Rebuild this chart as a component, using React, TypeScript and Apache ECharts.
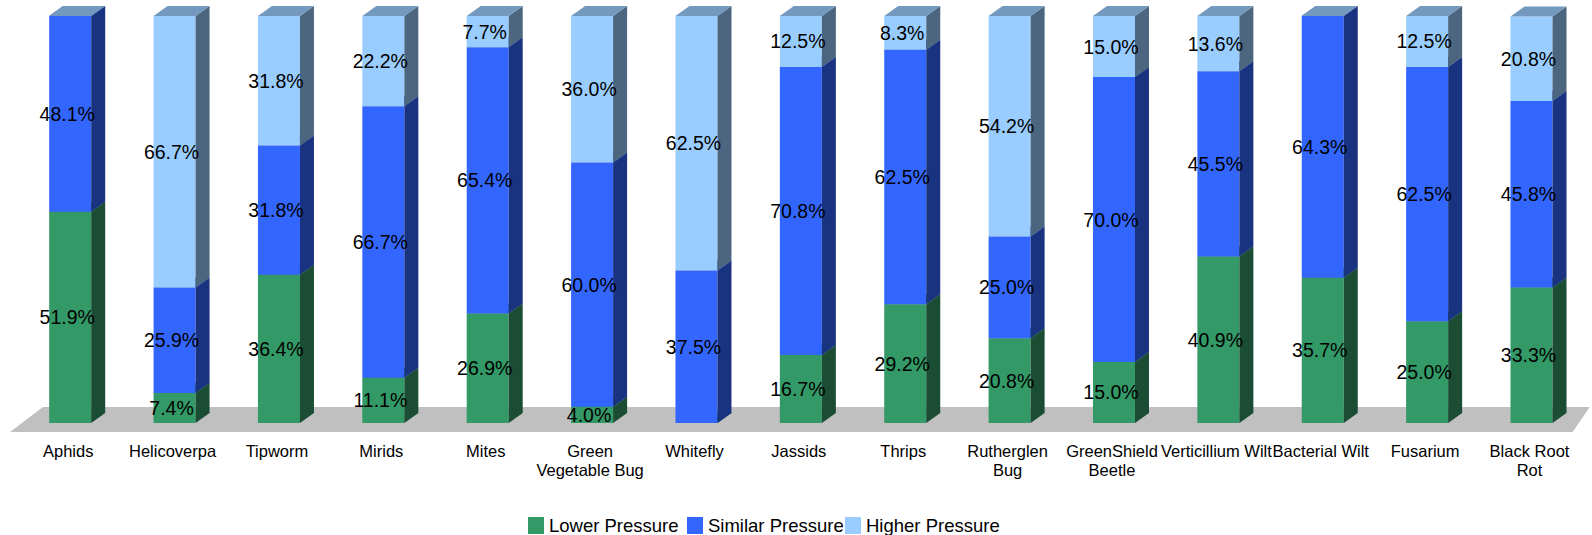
import React, { useEffect, useRef } from "react";
import * as echarts from "echarts";

const categories: string[] = [
  "Aphids",
  "Helicoverpa",
  "Tipworm",
  "Mirids",
  "Mites",
  "Green\nVegetable Bug",
  "Whitefly",
  "Jassids",
  "Thrips",
  "Rutherglen\nBug",
  "GreenShield\nBeetle",
  "Verticillium Wilt",
  "Bacterial Wilt",
  "Fusarium",
  "Black Root\nRot",
];

const lowerPressure: number[] = [51.9, 7.4, 36.4, 11.1, 26.9, 4.0, 0, 16.7, 29.2, 20.8, 15.0, 40.9, 35.7, 25.0, 33.3];
const similarPressure: number[] = [48.1, 25.9, 31.8, 66.7, 65.4, 60.0, 37.5, 70.8, 62.5, 25.0, 70.0, 45.5, 64.3, 62.5, 45.8];
const higherPressure: number[] = [0, 66.7, 31.8, 22.2, 7.7, 36.0, 62.5, 12.5, 8.3, 54.2, 15.0, 13.6, 0, 12.5, 20.8];

const seriesNames: string[] = ["Lower Pressure", "Similar Pressure", "Higher Pressure"];
const frontColors: string[] = ["#339966", "#3366FF", "#99CCFF"];
const sideColors: string[] = ["#1A4D33", "#1A3380", "#4D6680"];
const topColors: string[] = ["#26734D", "#264DBF", "#7399BF"];

const FONT = "'Liberation Sans', Arial, Helvetica, sans-serif";
const DX = 14;
const DY = 10;

export default function App() {
  const ref = useRef<HTMLDivElement>(null);

  useEffect(() => {
    if (!ref.current) return;
    const chart = echarts.init(ref.current, undefined, { renderer: "svg" });

    const allSeries = [lowerPressure, similarPressure, higherPressure];
    const bases: number[][] = allSeries.map((_, si) =>
      categories.map((__, ci) => {
        let b = 0;
        for (let k = 0; k < si; k++) b += allSeries[k][ci];
        return b;
      })
    );

    const makeRender = (si: number) => (params: any, api: any) => {
      const cat = api.value(0);
      const val = api.value(1);
      const base = api.value(2);
      const pB = api.coord([cat, base]);
      const pT = api.coord([cat, base + val]);
      const bandW = api.size([1, 0])[0];
      const w = bandW * 0.4025;
      const x0 = pB[0] - w / 2;
      const x1 = x0 + w;
      const yb = pB[1];
      const yt = pT[1];
      const children: any[] = [
        {
          type: "rect",
          shape: { x: x0, y: yt, width: w, height: yb - yt },
          style: { fill: frontColors[si] },
        },
        {
          type: "polygon",
          shape: { points: [[x1, yb], [x1 + DX, yb - DY], [x1 + DX, yt - DY], [x1, yt]] },
          style: { fill: sideColors[si] },
        },
        {
          type: "polygon",
          shape: { points: [[x0, yt], [x1, yt], [x1 + DX, yt - DY], [x0 + DX, yt - DY]] },
          style: { fill: topColors[si] },
        },
      ];
      if (val > 0) {
        children.push({
          type: "text",
          z2: 100,
          style: {
            text: val.toFixed(1) + "%",
            x: (x0 + x1) / 2 - 3,
            y: (yb + yt) / 2,
            align: "center",
            verticalAlign: "middle",
            fill: "#000",
            font: `19.5px ${FONT}`,
          },
        });
      }
      return { type: "group", children };
    };

    const barSeries = allSeries.map((arr, si) => ({
      type: "custom",
      name: seriesNames[si],
      coordinateSystem: "cartesian2d",
      clip: false,
      z: 2 + si,
      itemStyle: { color: frontColors[si] },
      encode: { x: 0, y: [1, 2] },
      data: arr.map((v, ci) => [ci, v, bases[si][ci]]),
      renderItem: makeRender(si),
    }));

    const floorSeries = {
      type: "custom",
      name: "floor",
      coordinateSystem: "cartesian2d",
      clip: false,
      z: 1,
      silent: true,
      data: [[0, 0]],
      encode: { x: 0, y: 1 },
      renderItem: (params: any) => {
        const cs = params.coordSys;
        const base = cs.y + cs.height;
        const l = cs.x;
        const r = cs.x + cs.width;
        return {
          type: "polygon",
          shape: {
            points: [
              [l - 8, base + 9],
              [l + 25, base - 16],
              [r + 6, base - 16],
              [r - 11, base + 9],
            ],
          },
          style: { fill: "#C0C0C0" },
        };
      },
    };

    const legendLefts = [528, 687, 845];
    const legends = seriesNames.map((n, i) => ({
      data: [{ name: n, icon: "rect" }],
      left: legendLefts[i],
      top: 516,
      padding: 0,
      itemWidth: 16,
      itemHeight: 17,
      selectedMode: false,
      textStyle: { fontSize: 18.5, color: "#000", fontFamily: FONT },
    }));

    chart.setOption({
      animation: false,
      backgroundColor: "#fff",
      grid: { left: 18, top: 16, width: 1565.7, height: 407, containLabel: false },
      legend: legends,
      xAxis: {
        type: "category",
        data: categories,
        axisLine: { show: false },
        axisTick: { show: false },
        splitLine: { show: false },
        axisLabel: {
          interval: 0,
          margin: 18,
          fontSize: 16.5,
          lineHeight: 19,
          color: "#000",
          fontFamily: FONT,
          padding: [0, 4, 0, 0],
        },
      },
      yAxis: {
        type: "value",
        min: 0,
        max: 100,
        show: false,
        splitLine: { show: false },
      },
      series: [floorSeries, ...barSeries],
    });

    return () => chart.dispose();
  }, []);

  return (
    <div
      ref={ref}
      style={{ position: "fixed", left: 0, top: 0, width: 1592, height: 535 }}
    />
  );
}
